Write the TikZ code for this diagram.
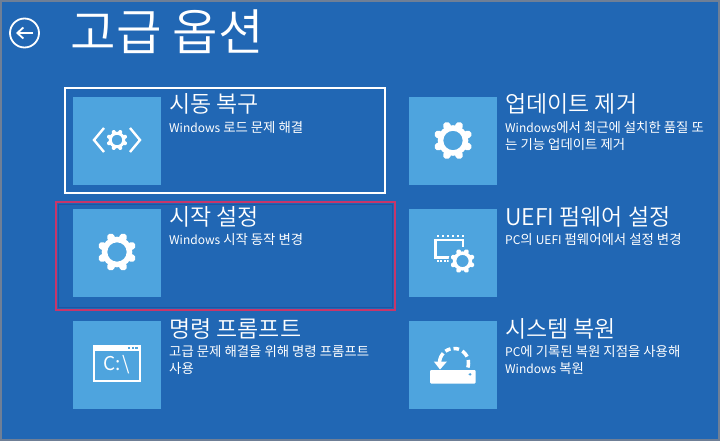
\documentclass[tikz,border=0pt]{standalone}
\usepackage{fontspec}
\usepackage{tikz}
\usetikzlibrary{arrows.meta}
\setmainfont{Noto Sans CJK KR}
\newfontfamily\lightfont{Noto Sans CJK KR DemiLight}
\definecolor{screenblue}{HTML}{2167B4}
\definecolor{tileblue}{HTML}{4EA4DE}
\definecolor{edgegray}{HTML}{6F7F96}
\definecolor{marksred}{HTML}{C8366A}
\definecolor{marksblue}{HTML}{1C56A4}
\newcommand{\lat}[1]{{\fontsize{12}{16.5}\selectfont #1}}
\newcommand{\gearicon}[3]{%
  \begin{scope}[shift={(#1,#2)},scale=#3]
    \draw [white, line width=5.5pt*#3] (0,0) circle (12.5);
    \foreach \ang in {0,45,...,315}
      \draw [white, line width=7.5pt*#3, line cap=round] (\ang+22.5:14.5) -- (\ang+22.5:16);
  \end{scope}}
\begin{document}
\begin{tikzpicture}
[ x=1pt, y=-1pt
, tile/.style={rectangle, minimum size=88pt, inner sep=0pt, outer sep=0pt, fill=tileblue, anchor=north west}
, heading/.style={anchor=base west, inner sep=0pt, text=white, font=\lightfont\fontsize{23}{23}\selectfont}
, detail/.style={anchor=north west, inner sep=0pt, text=white, align=left, font=\fontsize{13.4}{16.5}\selectfont}
, framebox/.style={draw, rectangle, line width=2pt, inner sep=0pt, outer sep=0pt, anchor=north west}
]
\useasboundingbox (0,0) rectangle (720,441);
\fill [edgegray] (0,0) rectangle (720,441);
\fill [screenblue] (2,2) rectangle (718,439);
% Back arrow and title:
\draw [white, line width=1.8pt] (24.5,33) circle (14.5);
\draw [white, line width=1.8pt, -{Straight Barb[length=6pt,width=11pt]}] (33,33) -- (16,33);
\node (title) [anchor=base west, inner sep=0pt, text=white, font=\lightfont\fontsize{49.5}{49.5}\selectfont] at (70.5,50.5) {고급 옵션};
% Tiles:
\node (startup) [tile] at (73,97) {};
\node (settings) [tile] at (73,209) {};
\node (prompt) [tile] at (73,321) {};
\node (update) [tile] at (409,97) {};
\node (uefi) [tile] at (409,209) {};
\node (restore) [tile] at (409,321) {};
% Frames:
\node (selected) [framebox, draw=white, minimum width=320pt, minimum height=105pt] at (64.5,88.3) {};
\node (marked) [framebox, draw=marksred, minimum width=338.8pt, minimum height=107.3pt] at (55.7,202.2) {};
\node (markedin) [draw=marksblue, line width=0.8pt, inner sep=0pt, outer sep=0pt, anchor=north west, minimum width=334.4pt, minimum height=102.9pt] at (57.9,204.4) {};
% Left column text:
\node (startuph) [heading] at (169,113) {시동 복구};
\node (startupd) [detail] at (169,121.5) {\lat{Windows} 로드 문제 해결};
\node (settingsh) [heading] at (169,225) {시작 설정};
\node (settingsd) [detail] at (169,233.5) {\lat{Windows} 시작 동작 변경};
\node (prompth) [heading] at (169,337) {명령 프롬프트};
\node (promptd) [detail] at (169,345.5) {고급 문제 해결을 위해 명령 프롬프트\\사용};
% Right column text:
\node (updateh) [heading] at (505,113) {업데이트 제거};
\node (updated) [detail] at (505,121.5) {\lat{Windows}에서 최근에 설치한 품질 또\\는 기능 업데이트 제거};
\node (uefih) [heading] at (505,225) {UEFI 펌웨어 설정};
\node (uefid) [detail] at (505,233.5) {\lat{PC}의 \lat{UEFI} 펌웨어에서 설정 변경};
\node (restoreh) [heading] at (505,337) {시스템 복원};
\node (restored) [detail] at (505,345.5) {\lat{PC}에 기록된 복원 지점을 사용해\\\lat{Windows} 복원};
% Icons:
\gearicon{117}{140}{0.54}
\draw [white, line width=2.4pt, miter limit=10] (104,128) -- (94,140) -- (104,152);
\draw [white, line width=2.4pt, miter limit=10] (130,128) -- (140,140) -- (130,152);
\gearicon{117}{252}{1}
\gearicon{453}{140.5}{1}
% Chip with gear:
\draw [white, line width=2.5pt] (435.3,239.8) rectangle (463,257.3);
\foreach \px in {0,1,...,5}
  \fill [white] (436.5+\px*5,234.5) rectangle +(2.2,2.5);
\foreach \px in {0,1,2,3}
  \fill [white] (436.5+\px*3.6,259.5) rectangle +(2,2.2);
\fill [tileblue] (462.5,261) circle (14);
\gearicon{462.5}{261}{0.63}
% Command window:
\draw [white, line width=2pt] (94.3,346) rectangle (139.7,380.7);
\fill [white] (94.3,346) rectangle (139.7,350.5);
\foreach \px in {128,131.7,135.4}
  \fill [tileblue] (\px,347) rectangle +(2.4,2);
\node (cmd) [inner sep=0pt, text=white, font=\fontsize{19}{19}\selectfont] at (116.5,365) {C:\kern2pt\textbackslash};
% Restore disk:
\fill [white, rounded corners=1pt] (430,370) rectangle (475.7,383.5);
\fill [tileblue] (468.7,373.8) rectangle +(2.6,1) (469.5,373) rectangle +(1,2.6);
\begin{scope}[shift={(454,363)}]
  \foreach \from/\to in {-18/12,26/55,70/92,104/126,138/178}
    \draw [white, line width=3.5pt] plot [domain=\from:\to, samples=8, smooth] (-\x:14.5);
\end{scope}
\fill [white] (433.8,361.5) -- (447,361.5) -- (440,369.5) -- cycle;
\end{tikzpicture}
\end{document}
